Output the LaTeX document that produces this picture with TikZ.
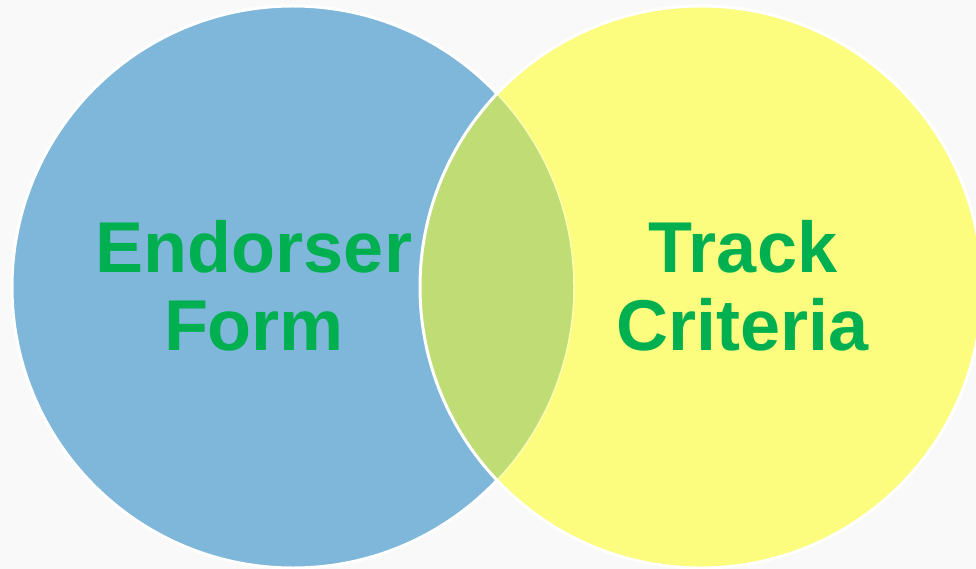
\documentclass[tikz,border=0pt]{standalone}
\usepackage{fontspec}
\setmainfont{Liberation Sans}
\definecolor{bgray}{HTML}{F9F9F9}
\definecolor{vblue}{HTML}{7FB7DA}
\definecolor{vyellow}{HTML}{FCFC7F}
\definecolor{vlens}{HTML}{C0DC74}
\definecolor{vgreen}{HTML}{00B050}
\tikzset{
    vset/.style = {draw=white, line width=3pt},
    vtext/.style = {text=vgreen, align=center, inner sep=0pt,
        font=\fontsize{72}{78}\selectfont\bfseries},
}

\begin{document}
\begin{tikzpicture}[x=1pt, y=-1pt]
\useasboundingbox (0,0) rectangle (976,569);
\clip (0,0) rectangle (976,569);
\fill[bgray] (0,0) rectangle (976,569);

\coordinate (ef) at (293,287);
\coordinate (tc) at (701,287);

\fill[vblue] (ef) circle[radius=281];
\draw[vset] (ef) circle[radius=281];
\fill[vyellow] (tc) circle[radius=281];

% overlap
\begin{scope}
\clip (tc) circle[radius=281];
\fill[vlens] (ef) circle[radius=281];
\draw[vyellow!60!white, line width=1.5pt] (ef) circle[radius=281];
\end{scope}
\draw[vset] (tc) circle[radius=281];

\node[vtext, anchor=base] (endorser) at (254,350) {Endorser\\Form};
\node[vtext, anchor=base] (track) at (743,350) {Track\\Criteria};
\end{tikzpicture}
\end{document}
